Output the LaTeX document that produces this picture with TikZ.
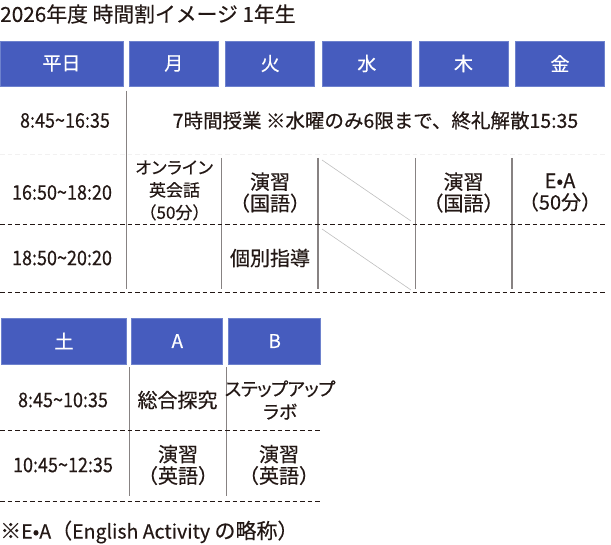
\documentclass[tikz,border=0pt]{standalone}
\usepackage{graphicx}
\usepackage{fontspec}
\setmainfont{Noto Sans CJK JP}[FakeBold=0.4]
\newfontfamily\jprop[RawFeature=+palt,FakeBold=0.4]{Noto Sans CJK JP}
\newcommand\bigj[1]{{\fontsize{21}{22}\selectfont #1}}
\newcommand\tall[1]{\scalebox{1}[1.12]{#1}}
\definecolor{ink}{RGB}{35,24,21}
\definecolor{hblue}{RGB}{70,92,190}
\definecolor{hedge}{RGB}{110,130,205}
\definecolor{vline}{RGB}{135,130,130}
\definecolor{dline}{RGB}{190,190,190}
\tikzset{
  hdr/.style={fill=hblue, draw=hedge, line width=0.8pt, text=white, inner sep=0pt, font=\fontsize{19}{20}\selectfont},
  cell/.style={text=ink, inner sep=0pt, align=center, font=\fontsize{20}{21.5}\selectfont},
  tcell/.style={cell, font=\fontsize{18}{21}\selectfont},
  sep/.style={draw=vline, line width=1.1pt},
  dsh/.style={draw=ink, line width=0.9pt, dash pattern=on 4.5pt off 3pt},
  diag/.style={draw=dline, line width=0.6pt},
}
\begin{document}
\begin{tikzpicture}[x=1pt,y=-1pt]
\useasboundingbox (0,0) rectangle (611,545);
% title
\node[cell, anchor=west, font=\fontsize{20.8}{22}\selectfont] (title) at (0,14) {2026年度 時間割イメージ 1年生};
% header top
\node[hdr, minimum width=123pt, minimum height=45pt] (hw) at (61.5,63.5) {平日};
\node[hdr, minimum width=89pt, minimum height=45pt] (hmo) at (173.8,63.5) {月};
\node[hdr, minimum width=89pt, minimum height=45pt] (htu) at (270.2,63.5) {火};
\node[hdr, minimum width=89pt, minimum height=45pt] (hwe) at (366.8,63.5) {水};
\node[hdr, minimum width=89pt, minimum height=45pt] (hth) at (463.5,63.5) {木};
\node[hdr, minimum width=89pt, minimum height=45pt] (hfr) at (560,63.5) {金};
% grid top
\coordinate (v1a) at (126.5,91); \coordinate (v1b) at (126.5,289);
\coordinate (v2a) at (221.5,158); \coordinate (v2b) at (221.5,289);
\coordinate (v3a) at (318,158); \coordinate (v3b) at (318,289);
\coordinate (v4a) at (415.5,158); \coordinate (v4b) at (415.5,289);
\coordinate (v5a) at (512,158); \coordinate (v5b) at (512,289);
\draw[sep] (v1a) -- (v1b);
\draw[sep] (v2a) -- (v2b);
\draw[sep] (v3a) -- (v3b);
\draw[sep] (v4a) -- (v4b);
\draw[sep] (v5a) -- (v5b);
\coordinate (f0) at (0,154); \coordinate (f1) at (606,154);
\draw[draw=ink!6, line width=0.8pt, dash pattern=on 4.5pt off 3pt] (f0) -- (f1);
\coordinate (d1a) at (0,224.5); \coordinate (d1b) at (606,224.5);
\coordinate (d2a) at (0,292.5); \coordinate (d2b) at (606,292.5);
\draw[dsh] (d1a) -- (d1b);
\draw[dsh] (d2a) -- (d2b);
\coordinate (g1a) at (322,160); \coordinate (g1b) at (411,221);
\coordinate (g2a) at (322,229); \coordinate (g2b) at (411,290);
\draw[diag] (g1a) -- (g1b);
\draw[diag] (g2a) -- (g2b);
% top cells
\node[tcell] (t1) at (65,120.5) {\tall{8:45\textasciitilde16:35}};
\node[cell, font=\fontsize{19.5}{21.5}\selectfont] (m1) at (375.5,120.5) {7時間授業 ※水曜のみ6限まで、終礼解散15:35};
\node[tcell] (t2) at (62,192.5) {\tall{16:50\textasciitilde18:20}};
\node[cell, font=\fontsize{17}{22.5}\selectfont] (c21) at (174.5,190.5) {{\addfontfeature{LetterSpace=-9}オンライン}\\英会話\\（50分）};
\node[cell] (c22) at (270,192.5) {演習\\（国語）};
\node[cell] (c24) at (463.5,192.5) {演習\\（国語）};
\node[cell] (c25) at (560,192.5) {E•A\\（50分）};
\node[tcell] (t3) at (62,258) {\tall{18:50\textasciitilde20:20}};
\node[cell] (c32) at (270,258) {個別指導};
% header bottom
\node[hdr, minimum width=125pt, minimum height=46pt] (hsa) at (64,341) {土};
\node[hdr, minimum width=91pt, minimum height=46pt] (ha) at (177.3,341) {A};
\node[hdr, minimum width=92pt, minimum height=46pt] (hb) at (274.7,341) {B};
% grid bottom
\coordinate (w1a) at (129.5,367); \coordinate (w1b) at (129.5,496);
\coordinate (w2a) at (226.5,367); \coordinate (w2b) at (226.5,496);
\draw[sep] (w1a) -- (w1b);
\draw[sep] (w2a) -- (w2b);
\coordinate (e1a) at (0,430); \coordinate (e1b) at (320,430);
\coordinate (e2a) at (0,501); \coordinate (e2b) at (320,501);
\draw[dsh] (e1a) -- (e1b);
\draw[dsh] (e2a) -- (e2b);
% bottom cells
\node[tcell] (s1) at (63,400) {\tall{8:45\textasciitilde10:35}};
\node[cell] (a1) at (177.5,400) {総合探究};
\node[cell, font=\jprop\fontsize{18.5}{23}\selectfont] (b1) at (280,400) {{\addfontfeature{LetterSpace=-3}ステップアップ}\\ラボ};
\node[tcell] (s2) at (63,465) {\tall{10:45\textasciitilde12:35}};
\node[cell] (a2) at (178,465) {演習\\（英語）};
\node[cell] (b2) at (279,465) {演習\\（英語）};
% footnote
\node[cell, anchor=west, font=\fontsize{19.5}{22}\selectfont] (note) at (0,532) {\bigj{※}E•A\bigj{（}English Activity \bigj{の略称）}};
\end{tikzpicture}
\end{document}
